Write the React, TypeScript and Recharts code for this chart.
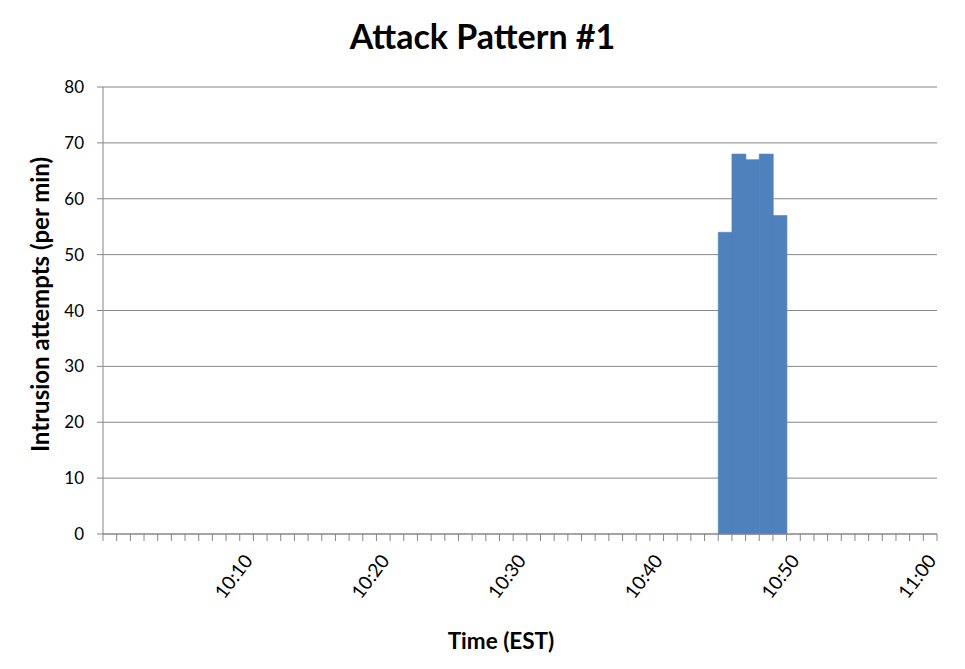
import { BarChart, Bar, XAxis, YAxis, CartesianGrid } from 'recharts'

const times = [
  '10:00', '10:01', '10:02', '10:03', '10:04', '10:05', '10:06', '10:07', '10:08', '10:09',
  '10:10', '10:11', '10:12', '10:13', '10:14', '10:15', '10:16', '10:17', '10:18', '10:19',
  '10:20', '10:21', '10:22', '10:23', '10:24', '10:25', '10:26', '10:27', '10:28', '10:29',
  '10:30', '10:31', '10:32', '10:33', '10:34', '10:35', '10:36', '10:37', '10:38', '10:39',
  '10:40', '10:41', '10:42', '10:43', '10:44', '10:45', '10:46', '10:47', '10:48', '10:49',
  '10:50', '10:51', '10:52', '10:53', '10:54', '10:55', '10:56', '10:57', '10:58', '10:59',
  '11:00',
]

const attempts = [
  0, 0, 0, 0, 0, 0, 0, 0, 0, 0,
  0, 0, 0, 0, 0, 0, 0, 0, 0, 0,
  0, 0, 0, 0, 0, 0, 0, 0, 0, 0,
  0, 0, 0, 0, 0, 0, 0, 0, 0, 0,
  0, 0, 0, 0, 0, 54, 68, 67, 68, 57,
  0, 0, 0, 0, 0, 0, 0, 0, 0, 0,
  0,
]

const timeLabels = ['10:10', '10:20', '10:30', '10:40', '10:50', '11:00']
const yTicks = [0, 10, 20, 30, 40, 50, 60, 70, 80]

const FONT = 'Lato, "Open Sans", sans-serif'
const GRID = '#868686'
const BAR = '#4F81BD'
const TICK_LEN = 7

const data = times.map((t, i) => ({ time: t, attempts: attempts[i] }))

// tick marks sit on the minute boundaries (Excel style), labels every 10 min
function MinuteTick({ x, y, payload, index }: any) {
  const half = payload.offset ?? 0
  const isLast = index === times.length - 1
  return (
    <g>
      <line x1={x - half} x2={x - half} y1={y - TICK_LEN} y2={y} stroke={GRID} />
      {isLast && <line x1={x + half} x2={x + half} y1={y - TICK_LEN} y2={y} stroke={GRID} />}
      {timeLabels.includes(payload.value) && (
        <text
          x={0}
          y={0}
          textAnchor="end"
          transform={`translate(${x + 7},${y + 20}) rotate(-53)`}
          fontSize={19}
          fontFamily={FONT}
          fill="#000"
        >
          {payload.value}
        </text>
      )}
    </g>
  )
}

export default function App() {
  return (
    <div style={{ position: 'absolute', left: 0, top: 0, width: 965, height: 669, background: '#fff' }}>
      <div
        style={{
          position: 'absolute', left: 0, top: 19, width: 965, textAlign: 'center',
          fontFamily: FONT, fontWeight: 700, fontSize: 34, lineHeight: '34px', color: '#000',
        }}
      >
        Attack Pattern #1
      </div>
      <BarChart
        width={965}
        height={669}
        data={data}
        margin={{ top: 87, right: 28, left: 0, bottom: 0 }}
        barCategoryGap={0}
        barGap={0}
      >
        <CartesianGrid vertical={false} stroke={GRID} strokeWidth={1} />
        <XAxis
          dataKey="time"
          interval={0}
          height={135}
          axisLine={{ stroke: GRID }}
          tickLine={false}
          tickSize={TICK_LEN}
          tickMargin={0}
          tick={<MinuteTick />}
          label={{
            value: 'Time (EST)',
            position: 'insideBottom',
            offset: 20,
            dx: -19,
            style: { fontFamily: FONT, fontWeight: 700, fontSize: 22.5, fill: '#000' },
          }}
        />
        <YAxis
          domain={[0, 80]}
          ticks={yTicks}
          width={103}
          tickSize={6}
          tickMargin={13}
          stroke={GRID}
          tick={{ fontFamily: FONT, fontSize: 17, fill: '#000' }}
          label={{
            value: 'Intrusion attempts (per min)',
            angle: -90,
            position: 'center',
            dx: -11,
            dy: -6,
            style: { fontFamily: FONT, fontWeight: 700, fontSize: 24, fill: '#000' },
          }}
        />
        <Bar dataKey="attempts" fill={BAR} stroke={BAR} strokeWidth={0.6} isAnimationActive={false} />
      </BarChart>
    </div>
  )
}
